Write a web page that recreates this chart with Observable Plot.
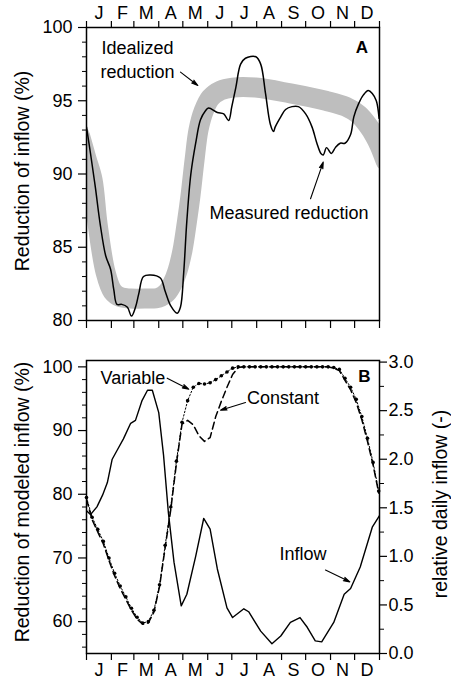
<!DOCTYPE html>
<html><head><meta charset="utf-8">
<script src="https://cdn.jsdelivr.net/npm/d3@7"></script>
<script src="https://cdn.jsdelivr.net/npm/@observablehq/plot@0.6"></script>
<style>
body{margin:0;background:#fff;}
#chart{width:451px;height:679px;position:relative;overflow:hidden;}
#chart svg{display:block;}
</style>
</head><body><div id="chart"></div>
<script>
// ---- tick labels / categories ----
const monthStarts = [0,31,59,90,120,151,181,212,243,273,304,334,365];
const monthLabels = ["J","F","M","A","M","J","J","A","S","O","N","D"];
const monthMids = [15.5,45,74.5,105,135.5,166,196.5,227.5,258,288.5,319,349.5];
const aMajor = [80,85,90,95,100];
const aMinor = [81,82,83,84,86,87,88,89,91,92,93,94,96,97,98,99];
const bMajor = [60,70,80,90,100];
const bMinor = [56,58,62,64,66,68,72,74,76,78,82,84,86,88,92,94,96,98];
const rightMajor = [0,0.5,1,1.5,2,2.5,3];
const rightMinor = [0.25,0.75,1.25,1.75,2.25,2.75];

// ---- Panel A: idealized reduction (band centre) ----
const idealDay = [-8,0,7.6,13.8,23.7,32.4,42,55,73.5,90,100,107,113.4,119.6,125,129.5,134.5,139.5,146,154.5,167,182,210.5,254,298,323,339,351.3,358.8,365,372.5];
const idealVal = [92.6,91.05,89.6,86.6,83.3,82.0,81.6,81.5,81.5,81.55,81.9,82.5,83.4,84.8,86.7,88.5,90.9,93.0,94.3,95.2,95.7,95.9,95.9,95.5,95.0,94.6,94.06,93.27,92.63,91.95,90.9];

// ---- Panel A: measured reduction ----
const measDay = [0,5,11,17,24,30,34,38,44,51,56,61,65,71,80,92,98,105,113,117,121,125,130,136,142,148,152,163,171,177,181,186,192,198,211,217,223,229,233,235,242,248,256,264,273,281,287,292,295,299,305,310,316,322,329,333,339,345,351,356,361,364.5];
const measVal = [93.2,91.4,89.1,86.6,84.4,83.5,82.1,81.1,81.1,80.9,80.3,80.9,81.8,83.0,83.1,82.9,82.0,81.0,80.5,80.9,83.2,86.8,90.0,92.1,93.7,94.3,94.5,94.2,94.1,93.65,94.6,95.9,97.5,97.9,98.0,97.5,95.5,93.4,92.9,93.2,93.9,94.4,94.6,94.6,94.1,93.2,92.1,91.4,91.3,91.8,91.4,91.8,92.1,92.1,92.7,93.9,94.8,95.4,95.7,95.5,95.0,93.8];

// ---- Panel B: relative daily inflow ----
const inflowDay = [0,5,13,20,26,32,38,46,55,61,69,76,82,90,96,102,109,118,125,136,146,154,163,175,182,196,202,217,231,242,254,266,275,285,293,308,321,329,341,356,365];
const inflowVal = [1.47,1.43,1.51,1.63,1.76,2.0,2.09,2.21,2.37,2.40,2.6,2.71,2.71,2.48,2.04,1.45,0.94,0.49,0.61,1.0,1.39,1.28,0.87,0.47,0.37,0.46,0.43,0.23,0.10,0.18,0.32,0.37,0.27,0.13,0.12,0.32,0.61,0.67,0.89,1.30,1.42];

// ---- Panel B: reduction of modeled inflow, weekly ----
const weekDay = [0,7,14,21,28,35,42,49,56,63,70,77,84,91,98,105,112,119,126,133,140,147,154,161,168,175,182,189,196,203,210,217,224,231,238,245,252,259,266,273,280,287,294,301,308,315,322,329,336,343,350,357,364];
const variableVal = [79.5,76.4,74.5,72.6,70.0,67.6,65.6,63.9,62.1,60.7,59.8,60.0,61.8,65.8,72.0,78.0,85.2,91.3,94.7,96.8,97.4,97.3,97.5,98.0,98.6,99.2,99.8,100,100,100,100,100,100,100,100,100,100,100,100,100,100,100,100,100,99.9,99.6,98.2,96.8,94.9,92.2,88.8,85.0,80.5];
const constantVal = [79.2,76.0,74.1,72.2,69.6,67.2,65.2,63.5,61.8,60.4,59.6,59.8,61.5,65.5,71.6,77.6,84.8,91.0,91.6,90.9,89.2,88.3,88.9,92.2,94.6,96.8,98.8,99.9,100,100,100,100,100,100,100,100,100,100,100,100,100,100,100,100,99.8,99.4,97.9,96.4,94.4,91.7,88.3,84.6,80.2];

// ---- annotations (data units) ----
const annA = [
  {day:63.5, v:98.2, label:"Idealized"},
  {day:63.5, v:96.57, label:"reduction"},
  {day:252.3, v:86.94, label:"Measured reduction"}
];
const arrowsA = [
  {x1:117.1, y1:96.95, x2:138.7, y2:96.04},
  {x1:279.1, y1:88.31, x2:294.9, y2:90.81}
];
const annB = [
  {day:57.9, v:97.28, label:"Variable"},
  {day:244.8, v:94.14, label:"Constant"},
  {day:269.7, v:69.7, label:"Inflow"}
];
const arrowsB = [
  {x1:100.5, y1:98.23, x2:127.4, y2:96.5},
  {x1:198.1, y1:94.4, x2:166.9, y2:93.2},
  {x1:297.7, y1:68.1, x2:328, y2:66.25}
];

// right-axis mapping of inflow onto left scale
const inflowBase = 55, inflowScale = 15.25;
const toLeft = i => inflowBase + i * inflowScale;
const fromLeft = v => (v - inflowBase) / inflowScale;

const font = "'Liberation Sans', Arial, Helvetica, sans-serif";
const style = {fontFamily: font, fontSize: "18px", color: "#000", background: "#fff", overflow: "visible"};

const ideal = idealDay.map((d, i) => ({day: d, v: idealVal[i]}));
const measured = measDay.map((d, i) => ({day: d, v: measVal[i]}));
const inflow = inflowDay.map((d, i) => ({day: d, v: toLeft(inflowVal[i])}));
const weekly = weekDay.map((d, i) => ({day: d, variable: variableVal[i], constant: constantVal[i]}));

const blank = () => "";
const arrowOpts = {x1: "x1", y1: "y1", x2: "x2", y2: "y2", stroke: "#000", fill: "#000", strokeWidth: 1.1, headLength: 9, headAngle: 32};

const plotA = Plot.plot({
  width: 451, height: 340, marginTop: 27, marginBottom: 20, marginLeft: 86, marginRight: 72,
  style,
  x: {domain: [0, 365], label: null},
  y: {domain: [80, 100], label: null},
  marks: [
    Plot.line(ideal, {x: "day", y: "v", stroke: "#bebebe", strokeWidth: 20, strokeLinejoin: "round", curve: "catmull-rom", clip: true}),
    Plot.line(measured, {x: "day", y: "v", stroke: "#000", strokeWidth: 1.5, curve: "catmull-rom", clip: true}),
    Plot.frame({stroke: "#000", strokeWidth: 1.5}),
    Plot.axisX(monthStarts, {anchor: "top", tickSize: 7, tickFormat: blank, strokeWidth: 1.2}),
    Plot.axisX(monthMids, {anchor: "top", tickSize: 0, tickPadding: 9, fontSize: 18, tickFormat: d => monthLabels[monthMids.indexOf(d)]}),
    Plot.axisX(monthStarts, {anchor: "bottom", tickSize: 8, tickFormat: blank, strokeWidth: 1.2}),
    Plot.axisY(aMinor, {anchor: "left", tickSize: 4, tickFormat: blank}),
    Plot.axisY(aMajor, {anchor: "left", tickSize: 8, tickPadding: 6, fontSize: 18, strokeWidth: 1.2}),
    Plot.text(["Reduction of inflow (%)"], {frameAnchor: "left", rotate: -90, dx: -64, dy: -3, textAnchor: "middle", lineAnchor: "middle", fontSize: 19.5}),
    Plot.text(annA, {x: "day", y: "v", text: "label", textAnchor: "middle", lineAnchor: "bottom", fontSize: 18}),
    Plot.arrow(arrowsA, arrowOpts),
    Plot.text(["A"], {frameAnchor: "top-right", dx: -17.5, dy: 25, textAnchor: "middle", lineAnchor: "bottom", fontSize: 17, fontWeight: "bold"})
  ]
});

const plotB = Plot.plot({
  width: 451, height: 339, marginTop: 20, marginBottom: 26, marginLeft: 86, marginRight: 72,
  style,
  x: {domain: [0, 365], label: null},
  y: {domain: [55, 101], label: null},
  marks: [
    Plot.line(inflow, {x: "day", y: "v", stroke: "#000", strokeWidth: 1.4, clip: true}),
    Plot.line(weekly, {x: "day", y: "constant", stroke: "#000", strokeWidth: 1.5, strokeDasharray: "7,4", clip: true}),
    Plot.line(weekly, {x: "day", y: "variable", stroke: "#000", strokeWidth: 1, strokeDasharray: "1.5,2", clip: true}),
    Plot.dot(weekly, {x: "day", y: "variable", r: 1.8, fill: "#000", stroke: null}),
    Plot.frame({stroke: "#000", strokeWidth: 1.5}),
    Plot.axisX(monthStarts, {anchor: "bottom", tickSize: 7, tickFormat: blank, strokeWidth: 1.2}),
    Plot.axisX(monthMids, {anchor: "bottom", tickSize: 0, tickPadding: 10, fontSize: 18, tickFormat: d => monthLabels[monthMids.indexOf(d)]}),
    Plot.axisY(bMinor, {anchor: "left", tickSize: 4, tickFormat: blank}),
    Plot.axisY(bMajor, {anchor: "left", tickSize: 8, tickPadding: 6, fontSize: 18, strokeWidth: 1.2}),
    Plot.axisY(rightMinor.map(toLeft), {anchor: "right", tickSize: 4, tickFormat: blank}),
    Plot.axisY(rightMajor.map(toLeft), {anchor: "right", tickSize: 7, tickPadding: 2, fontSize: 18, strokeWidth: 1.2, tickFormat: v => fromLeft(v).toFixed(1)}),
    Plot.text(["Reduction of modeled inflow (%)"], {frameAnchor: "left", rotate: -90, dx: -64, dy: -5, textAnchor: "middle", lineAnchor: "middle", fontSize: 19.5}),
    Plot.text(["relative daily inflow (-)"], {frameAnchor: "right", rotate: -90, dx: 61, dy: -3, textAnchor: "middle", lineAnchor: "middle", fontSize: 19.5}),
    Plot.text(annB, {x: "day", y: "v", text: "label", textAnchor: "middle", lineAnchor: "bottom", fontSize: 18}),
    Plot.arrow(arrowsB, arrowOpts),
    Plot.text(["B"], {frameAnchor: "top-right", dx: -15, dy: 21, textAnchor: "middle", lineAnchor: "bottom", fontSize: 17, fontWeight: "bold"})
  ]
});

const chart = document.getElementById("chart");
chart.appendChild(plotA);
chart.appendChild(plotB);
</script>
</body></html>
